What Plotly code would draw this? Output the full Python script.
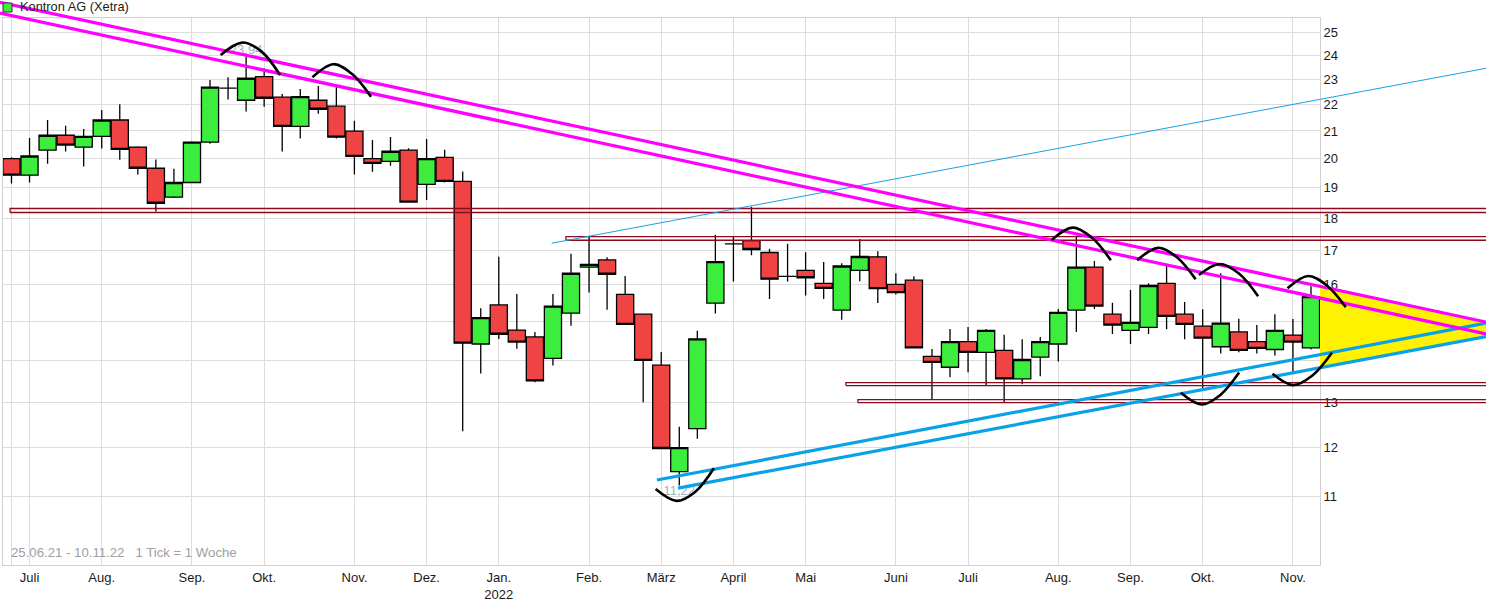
import numpy as np
import pandas as pd
import plotly.graph_objects as go

# ---------------- data ----------------
WEEK_START = "2021-06-21"
N_WEEKS = 73
TITLE = "Kontron AG (Xetra)"
INFO = "25.06.21 - 10.11.22   1 Tick = 1 Woche"

OPEN = [20.00, 19.42, 20.30, 20.84, 20.41, 20.80, 21.41, 20.41, 19.66, 18.68,
        19.17, 20.59, 22.65, 22.17, 23.12, 22.29, 21.17, 22.17, 21.94, 20.99,
        20.00, 19.90, 20.30, 19.11, 20.04, 19.21, 14.41, 15.44, 14.77, 14.59,
        14.05, 15.22, 16.51, 16.72, 15.73, 15.19, 13.88, 11.50, 12.41, 15.49,
        17.20, 17.30, 16.94, 16.24, 16.41, 16.04, 15.30, 16.41, 16.81, 16.01,
        16.13, 14.10, 13.83, 14.47, 14.20, 14.25, 13.55, 14.08, 14.41, 15.30,
        16.51, 15.19, 14.76, 14.84, 16.04, 15.19, 14.87, 14.34, 14.72, 14.47,
        14.27, 14.64, 14.31]
HIGH = [20.05, 20.74, 21.41, 21.19, 21.07, 21.79, 22.01, 20.44, 19.97, 19.64,
        20.62, 22.98, 23.09, 23.94, 23.45, 22.42, 22.62, 22.74, 22.75, 21.38,
        20.67, 20.78, 20.37, 20.70, 20.31, 19.55, 15.35, 16.81, 15.74, 14.72,
        15.74, 16.90, 17.41, 16.80, 16.25, 15.20, 14.21, 12.45, 14.75, 17.48,
        17.41, 18.37, 17.05, 17.20, 16.95, 16.66, 16.62, 17.35, 16.98, 16.33,
        16.24, 14.28, 14.80, 14.85, 14.80, 14.65, 14.53, 14.59, 15.33, 17.45,
        16.69, 15.50, 15.85, 16.04, 16.57, 15.52, 15.32, 16.33, 15.07, 14.90,
        15.19, 15.06, 15.96]
LOW = [19.14, 19.17, 19.82, 20.25, 19.72, 20.36, 19.96, 19.44, 18.21, 18.65,
       19.15, 20.53, 22.20, 21.73, 21.92, 20.25, 20.72, 21.65, 20.72, 19.44,
       19.54, 19.75, 18.50, 18.59, 19.17, 12.35, 13.68, 14.54, 14.29, 13.47,
       13.87, 14.88, 15.78, 15.31, 14.90, 13.00, 11.97, 11.22, 12.19, 15.21,
       16.09, 16.86, 15.60, 16.09, 15.70, 15.60, 15.04, 16.10, 15.49, 15.73,
       14.30, 13.07, 13.59, 13.71, 13.38, 13.00, 13.42, 13.61, 13.97, 14.72,
       15.33, 14.67, 14.41, 14.67, 14.79, 14.53, 13.33, 14.17, 14.20, 14.17,
       14.12, 13.71, 14.27]
CLOSE = [19.42, 20.09, 20.84, 20.48, 20.80, 21.41, 20.33, 19.66, 18.48, 19.17,
         20.59, 22.69, 22.65, 23.05, 22.25, 21.17, 22.31, 21.82, 20.77, 20.08,
         19.83, 20.26, 18.52, 20.00, 19.21, 14.43, 15.10, 14.66, 14.46, 13.50,
         15.41, 16.33, 16.59, 16.30, 14.92, 14.00, 11.98, 12.00, 14.54, 16.67,
         17.20, 17.03, 16.16, 16.24, 16.20, 15.90, 16.54, 16.82, 15.89, 15.78,
         14.31, 13.95, 14.47, 14.20, 14.76, 13.55, 14.02, 14.47, 15.24, 16.51,
         15.41, 14.90, 14.97, 15.98, 15.13, 14.92, 14.56, 14.95, 14.25, 14.30,
         14.76, 14.46, 15.67]

Y_TICKS = list(range(11, 26))
MONTHS_DE = ["Jan.", "Feb.", "März", "April", "Mai", "Juni",
             "Juli", "Aug.", "Sep.", "Okt.", "Nov.", "Dez."]

# drawing tools (x = week number, y = price)
MAG_UP_X, MAG_UP_Y = [-0.64, 81.7], [26.36, 14.98]
MAG_LO_X, MAG_LO_Y = [-0.64, 81.7], [25.86, 14.67]
BLUE_UP_X, BLUE_UP_Y = [35.76, 81.7], [11.33, 14.95]
BLUE_LO_X, BLUE_LO_Y = [36.93, 81.7], [11.17, 14.60]
BLUE_THIN_X, BLUE_THIN_Y = [29.93, 81.7], [17.22, 23.46]
TRI_X = [72.5, 81.7, 81.7, 72.5]
TRI_Y = [15.96, 14.98, 14.60, 13.81]
# horizontal zones: (start week, low, high)
ZONE_START = [-0.08, 30.72, 46.23, 46.90]
ZONE_LOW = [18.18, 17.31, 13.39, 12.99]
ZONE_HIGH = [18.31, 17.42, 13.46, 13.06]
ZONE_END = 82.5
# cycle arcs
ARCS_X = [[11.59, 12.79, 13.86, 14.88], [16.67, 17.83, 18.86, 19.92],
          [57.63, 58.79, 59.84, 60.91], [62.37, 63.53, 64.57, 65.61],
          [65.79, 66.95, 68.01, 69.07], [70.70, 71.84, 72.88, 73.93],
          [35.69, 36.85, 37.89, 38.92], [64.79, 65.94, 66.98, 68.02],
          [69.87, 71.01, 72.08, 73.16]]
ARCS_Y = [[24.02, 24.55, 24.16, 23.18], [23.09, 23.63, 23.23, 22.31],
          [17.32, 17.70, 17.40, 16.71], [16.71, 17.08, 16.80, 16.16],
          [16.28, 16.60, 16.32, 15.68], [15.90, 16.25, 15.98, 15.38],
          [11.15, 10.92, 11.10, 11.57], [13.22, 12.95, 13.17, 13.70],
          [13.67, 13.40, 13.63, 14.19]]

# ---------------- layout geometry ----------------
W, H = 1486, 603
PL, PR, PT, PB = 3, 1320, 18, 565
X_RANGE = [-0.47, 72.5]
Y_RANGE = [9.75, 25.64]

weeks = pd.date_range(WEEK_START, periods=N_WEEKS, freq="7D")
xcat = [d.strftime("%Y-%m-%d") for d in weeks]

tickvals, ticktext = [xcat[0]], [""]
for i, d in enumerate(weeks):
    for k in range(7):
        day = d + pd.Timedelta(days=k)
        if day.day == 1:
            lab = MONTHS_DE[day.month - 1]
            if day.month == 1:
                lab += "<br>" + str(day.year)
            tickvals.append(xcat[i])
            ticktext.append(lab)

pxx = (PR - PL) / (X_RANGE[1] - X_RANGE[0])
x2_range = [X_RANGE[0] - PL / pxx, X_RANGE[1] + (W - PR) / pxx]
lg = np.log10(Y_RANGE)
per = (lg[1] - lg[0]) / (PB - PT)
y2_range = [lg[0] - (H - PB) * per, lg[1] + PT * per]

FONT = "Liberation Sans, Arial, sans-serif"
GREEN, RED = "#3ded3d", "#f04343"

fig = go.Figure()
fig.add_trace(go.Candlestick(
    x=xcat, open=OPEN, high=HIGH, low=LOW, close=CLOSE,
    increasing=dict(fillcolor=GREEN, line=dict(color="black", width=1.3)),
    decreasing=dict(fillcolor=RED, line=dict(color="black", width=1.3)),
    whiskerwidth=0, showlegend=False, hoverinfo="skip"))

imax = int(np.argmax(HIGH))
imin = int(np.argmin(LOW))
fig.add_trace(go.Scatter(
    x=[xcat[imax]], y=[HIGH[imax]], mode="text",
    text=[f"{HIGH[imax]:.2f}".replace(".", ",")], textposition="top center",
    textfont=dict(family=FONT, size=13, color="#a3b0c0"), showlegend=False))
fig.add_trace(go.Scatter(
    x=[xcat[imin]], y=[LOW[imin]], mode="text",
    text=[f"{LOW[imin]:.2f}".replace(".", ",")], textposition="bottom center",
    textfont=dict(family=FONT, size=13, color="#a3b0c0"), showlegend=False))

ov = dict(xaxis="x2", yaxis="y2", showlegend=False, hoverinfo="skip")
fig.add_trace(go.Scatter(x=TRI_X, y=TRI_Y, fill="toself", fillcolor="#fff200",
                         mode="lines", line=dict(width=0), **ov))
for xs, lo, hi in zip(ZONE_START, ZONE_LOW, ZONE_HIGH):
    fig.add_trace(go.Scatter(x=[xs, ZONE_END, ZONE_END, xs, xs], y=[lo, lo, hi, hi, lo],
                             mode="lines", line=dict(color="#8c0a1e", width=1.3), **ov))
fig.add_trace(go.Scatter(x=BLUE_THIN_X, y=BLUE_THIN_Y, mode="lines",
                         line=dict(color="#1aa0e2", width=1), **ov))
for xs, ys in [(BLUE_UP_X, BLUE_UP_Y), (BLUE_LO_X, BLUE_LO_Y)]:
    fig.add_trace(go.Scatter(x=xs, y=ys, mode="lines",
                             line=dict(color="#0aa2e6", width=3.2), **ov))
for xs, ys in [(MAG_UP_X, MAG_UP_Y), (MAG_LO_X, MAG_LO_Y)]:
    fig.add_trace(go.Scatter(x=xs, y=ys, mode="lines",
                             line=dict(color="#ff00ff", width=3.2), **ov))
for xs, ys in zip(ARCS_X, ARCS_Y):
    fig.add_trace(go.Scatter(x=xs, y=ys, mode="lines",
                             line=dict(color="black", width=2.6, shape="spline", smoothing=1.0), **ov))

GRID = "#dcdcdc"
fig.update_layout(
    width=W, height=H, margin=dict(l=0, r=0, t=0, b=0),
    paper_bgcolor="white", plot_bgcolor="rgba(0,0,0,0)",
    showlegend=False, boxgap=0.05, boxgroupgap=0,
    font=dict(family=FONT, size=13, color="#1a1a1a"),
    xaxis=dict(type="category", domain=[PL / W, PR / W], range=X_RANGE,
               tickvals=tickvals, ticktext=ticktext, showgrid=True, gridcolor=GRID,
               gridwidth=1, showline=True, linecolor="#d0d0d0", mirror=True,
               ticks="", rangeslider=dict(visible=False), automargin=False,
               tickfont=dict(size=13, color="#1a1a1a"), anchor="y"),
    yaxis=dict(type="log", domain=[(H - PB) / H, (H - PT) / H], range=list(lg),
               side="right", tickvals=Y_TICKS, ticktext=[str(v) for v in Y_TICKS],
               showgrid=True, gridcolor=GRID, gridwidth=1, showline=True,
               linecolor="#d0d0d0", mirror=True, ticks="", zeroline=False,
               automargin=False, tickfont=dict(size=13, color="#1a1a1a"), anchor="x"),
    xaxis2=dict(domain=[0, 1], range=x2_range, visible=False, anchor="y2",
                showgrid=False, zeroline=False, fixedrange=True),
    yaxis2=dict(type="log", domain=[0, 1], range=y2_range, visible=False,
                anchor="x2", showgrid=False, zeroline=False, fixedrange=True),
)

fig.add_shape(type="rect", xref="paper", yref="paper",
              x0=3 / W, x1=12 / W, y0=1 - 12 / H, y1=1 - 3 / H,
              fillcolor=GREEN, line=dict(color="#333333", width=1))
fig.add_annotation(text=TITLE, xref="paper", yref="paper", x=18 / W, y=1 - 7 / H,
                   xanchor="left", yanchor="middle", showarrow=False,
                   font=dict(family=FONT, size=12.8, color="#1a1a1a"))
fig.add_annotation(text=INFO, xref="paper", yref="paper", x=9 / W, y=1 - 552 / H,
                   xanchor="left", yanchor="middle", showarrow=False,
                   font=dict(family=FONT, size=13.2, color="#a0a0a0"))

fig.write_html("out.html", config={"displayModeBar": False},
               post_script="document.body.style.margin='0';document.body.style.overflow='hidden';")
